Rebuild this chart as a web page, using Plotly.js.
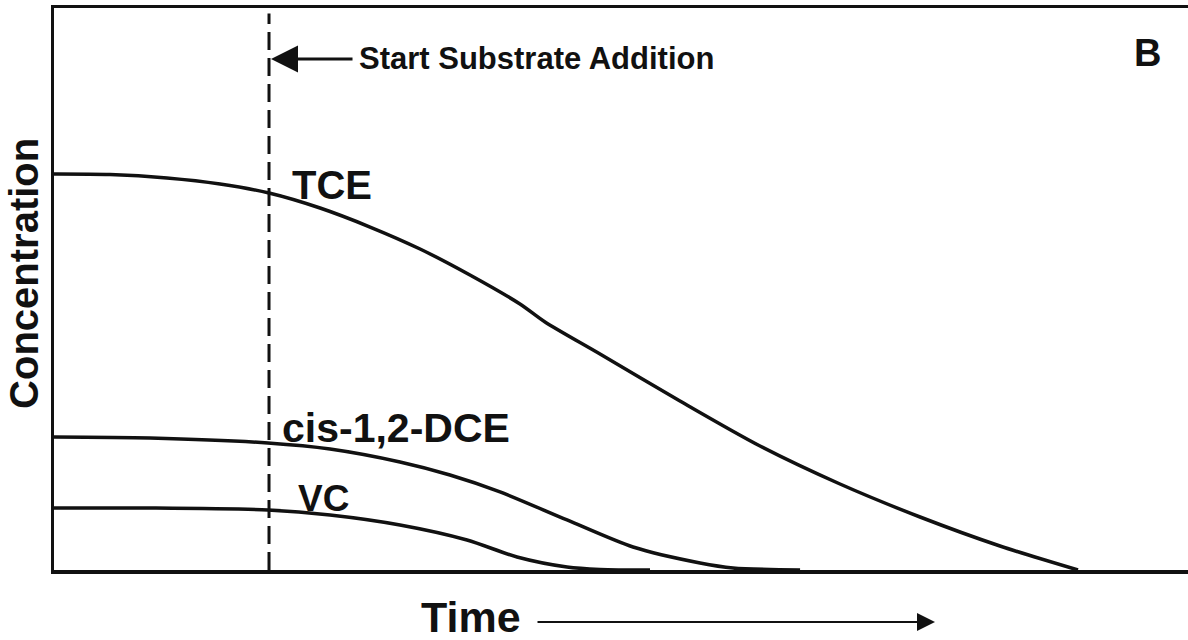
<!DOCTYPE html>
<html>
<head>
<meta charset="utf-8">
<script src="https://cdn.plot.ly/plotly-3.0.1.min.js"></script>
<style>html,body{margin:0;padding:0;background:#fff;}#chart{width:1188px;height:640px;}</style>
</head>
<body>
<div id="chart"></div>
<script>
// Time (arbitrary units, 0-100) and concentration (arbitrary units, 0-100)
const substrateStart = 18.96;

const tceTime = [0, 4.94, 9.96, 14.64, 18.96, 23.46, 27.87, 32.28, 36.68, 41.09, 43.30, 48.15, 55.20, 62.26, 69.31, 76.37, 83.42, 90.30];
const tceConc = [70.46, 70.37, 69.75, 68.68, 67.08, 64.41, 61.03, 57.12, 52.49, 47.33, 44.13, 38.43, 30.07, 22.06, 15.30, 9.43, 4.27, 0];

const dceTime = [0, 8.47, 18.87, 24.34, 30.51, 34.92, 39.33, 45.24, 51.06, 56.97, 59.88, 65.79];
const dceConc = [23.67, 23.49, 22.60, 21.53, 19.22, 16.90, 13.90, 8.90, 4.09, 1.25, 0.36, 0];

const vcTime = [0, 8.47, 18.87, 24.34, 30.51, 36.42, 40.83, 45.24, 48.15, 52.56];
const vcConc = [11.03, 11.03, 10.68, 9.79, 8.01, 5.34, 2.31, 0.53, 0.1, 0];

const seriesNames = ["TCE", "cis-1,2-DCE", "VC"];
const labelPos = [[24.5, 68.5], [30.2, 25.3], [23.8, 12.8]];
const labelSizes = [40, 41, 37];

const ink = "#111111";
const boldFont = "Liberation Sans, Arial, sans-serif";

function curve(x, y, name) {
  return {x: x, y: y, name: name, type: "scatter", mode: "lines",
    line: {color: ink, width: 3.5, shape: "spline", smoothing: 0.8},
    hoverinfo: "skip", showlegend: false};
}

const data = [
  curve(tceTime, tceConc, seriesNames[0]),
  curve(dceTime, dceConc, seriesNames[1]),
  curve(vcTime, vcConc, seriesNames[2])
];

const annotations = seriesNames.map((n, i) => ({
  x: labelPos[i][0], y: labelPos[i][1], xref: "x", yref: "y",
  xanchor: "center", yanchor: "middle",
  text: "<b>" + n + "</b>", showarrow: false,
  font: {family: boldFont, size: labelSizes[i], color: ink}
}));

annotations.push(
  {x: 0.4259, y: 0.9093, xref: "paper", yref: "paper", xanchor: "center", yanchor: "middle",
   text: "<b>Start Substrate Addition</b>",
   showarrow: false, font: {family: boldFont, size: 31, color: ink}},
  {x: substrateStart, y: 0.9093, xref: "x", yref: "paper", text: "", showarrow: true,
   ax: 85, ay: 0, arrowhead: 2, arrowsize: 1.8, arrowwidth: 3, arrowcolor: ink, standoff: 2},
  {x: 0.9647, y: 0.92, xref: "paper", yref: "paper", xanchor: "center", yanchor: "middle",
   text: "<b>B</b>", showarrow: false, font: {family: boldFont, size: 38, color: ink}},
  {x: -0.0265, y: 0.5285, xref: "paper", yref: "paper", xanchor: "center", yanchor: "middle",
   text: "<b>Concentration</b>", textangle: -90,
   showarrow: false, font: {family: boldFont, size: 40, color: ink}},
  {x: 0.3677, y: -0.0836, xref: "paper", yref: "paper", xanchor: "center", yanchor: "middle",
   text: "<b>Time</b>", showarrow: false, font: {family: boldFont, size: 43, color: ink}},
  {x: 0.7769, y: -0.0925, xref: "paper", yref: "paper", text: "", showarrow: true,
   ax: -399, ay: 0, arrowhead: 2, arrowsize: 1.8, arrowwidth: 2, arrowcolor: ink, standoff: 0}
);

const layout = {
  width: 1188, height: 640,
  margin: {l: 54, r: 0, t: 8, b: 70, pad: 0},
  paper_bgcolor: "#ffffff", plot_bgcolor: "#ffffff",
  showlegend: false,
  xaxis: {range: [0, 100], showgrid: false, zeroline: false, showticklabels: false, ticks: "",
          showline: true, mirror: true, linecolor: ink, linewidth: 3.5, fixedrange: true},
  yaxis: {range: [0, 100], showgrid: false, zeroline: false, showticklabels: false, ticks: "",
          showline: true, mirror: false, linecolor: ink, linewidth: 3.5, fixedrange: true},
  shapes: [
    {type: "line", xref: "x", yref: "paper", x0: substrateStart, x1: substrateStart, y0: 0, y1: 0.99,
     line: {color: ink, width: 3, dash: "18px,8px"}}
  ],
  annotations: annotations
};

Plotly.newPlot("chart", data, layout, {staticPlot: true, displayModeBar: false});
</script>
</body>
</html>
